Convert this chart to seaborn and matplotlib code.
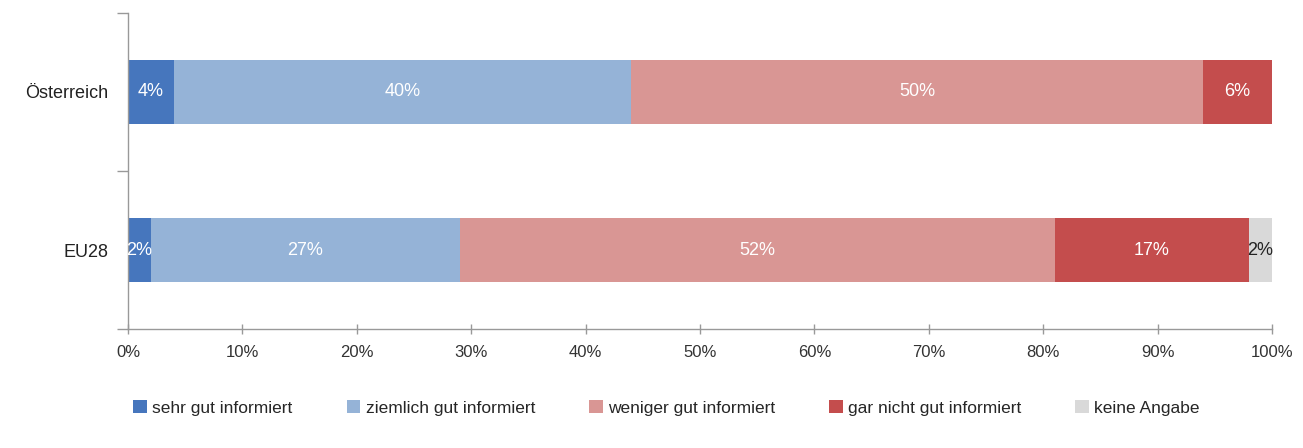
import matplotlib
matplotlib.use("Agg")
import matplotlib.pyplot as plt
from matplotlib.patches import Patch
from matplotlib import font_manager
import numpy as np
import pandas as pd
import seaborn as sns

# Data
regions = ["Österreich", "EU28"]
series_names = ["sehr gut informiert", "ziemlich gut informiert",
                "weniger gut informiert", "gar nicht gut informiert", "keine Angabe"]
sehr_gut = [4, 2]
ziemlich_gut = [40, 27]
weniger_gut = [50, 52]
gar_nicht = [6, 17]
keine_angabe = [0, 2]
x_ticks = [0, 10, 20, 30, 40, 50, 60, 70, 80, 90, 100]

colors = ["#4676bd", "#95b3d7", "#d99694", "#c44d4d", "#d9d9d9"]
label_colors = ["#ffffff", "#ffffff", "#ffffff", "#ffffff", "#222222"]

sns.set_theme(style="white")
names = {f.name for f in font_manager.fontManager.ttflist}
fam = "Liberation Sans Narrow" if "Liberation Sans Narrow" in names else "Liberation Sans"
plt.rcParams["font.family"] = [fam, "DejaVu Sans"]

values = np.array([sehr_gut, ziemlich_gut, weniger_gut, gar_nicht, keine_angabe], dtype=float)
cum = np.cumsum(values, axis=0)

fig = plt.figure(figsize=(13.03, 4.48), dpi=100)
ax = fig.add_axes([0.0982, 0.2656, 0.8780, 0.7054])

# Stacked bars: draw cumulative totals from the outermost segment inward
for i in range(len(series_names) - 1, -1, -1):
    df = pd.DataFrame({"region": regions, "value": cum[i]})
    sns.barplot(data=df, x="value", y="region", color=colors[i], width=0.41,
                saturation=1, orient="h", ax=ax, linewidth=0)

# Segment labels
for i in range(len(series_names)):
    for j in range(len(regions)):
        v = values[i, j]
        if v <= 0:
            continue
        center = cum[i, j] - v / 2
        ax.text(center, j, f"{int(v)}%", ha="center", va="center",
                color=label_colors[i], fontsize=13)

ax.set_xlim(0, 100)
ax.set_ylim(1.5, -0.5)
ax.set_xticks(x_ticks)
ax.set_xticklabels([f"{t}%" for t in x_ticks], fontsize=12, color="#333333")
ax.set_yticks([0, 1])
ax.set_yticklabels(regions, fontsize=13, color="#222222")
ax.set_yticks([-0.5, 0.5, 1.5], minor=True)
ax.tick_params(axis="y", which="major", left=True, length=0, pad=14)
ax.tick_params(axis="y", which="minor", left=True, length=8, color="#999999", width=1)
ax.tick_params(axis="x", which="major", bottom=True, direction="inout", length=7,
               color="#999999", width=1, pad=8)
ax.set_xlabel("")
ax.set_ylabel("")

for s in ["top", "right"]:
    ax.spines[s].set_visible(False)
for s in ["left", "bottom"]:
    ax.spines[s].set_color("#999999")
    ax.spines[s].set_linewidth(1)

handles = [Patch(facecolor=c, edgecolor="none") for c in colors]
fig.legend(handles, series_names, loc="center", bbox_to_anchor=(0.5115, 0.09),
           ncol=5, frameon=False, fontsize=12.5, handlelength=0.8, handleheight=0.8,
           handletextpad=0.3, columnspacing=3.1)

fig.savefig("out.png", dpi=100, facecolor="white")
